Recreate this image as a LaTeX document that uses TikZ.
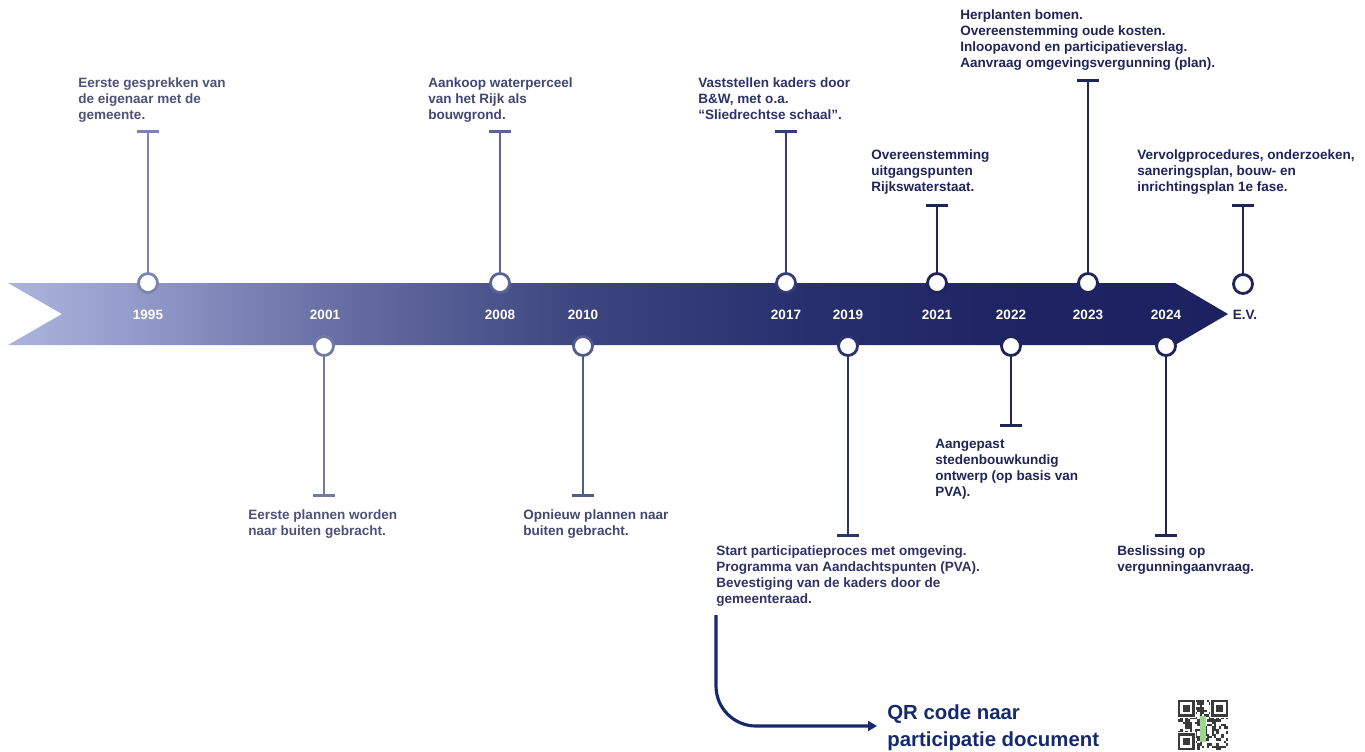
\documentclass[tikz,border=0pt]{standalone}
\usepackage{fontspec}
\setmainfont{Liberation Sans}
\usetikzlibrary{
  arrows.meta,  % Tip "Bar" for the caps, "Triangle" for the QR arrow
}
\definecolor{navy}{HTML}{1F2459}
\definecolor{qrblue}{HTML}{152A6E}
\definecolor{qrdark}{HTML}{3A3A3A}
\definecolor{qrgreen}{HTML}{9BD58E}
% stem / text colours from left (light) to right (dark)
\definecolor{st1}{HTML}{7C84AC}
\definecolor{st2}{HTML}{727AA4}
\definecolor{st3}{HTML}{5C6494}
\definecolor{st4}{HTML}{535B8C}
\definecolor{st5}{HTML}{343B75}
\definecolor{st6}{HTML}{2C336D}
\definecolor{txt1}{HTML}{4D5276}
\definecolor{txt2}{HTML}{424772}
\definecolor{txt3}{HTML}{2E3367}
% Band gradient, light on the left, navy on the right
% (the path is fitted to the part from 25bp to 75bp)
\pgfdeclarehorizontalshading{bandshade}{100bp}{
  rgb(0bp)=(0.67,0.71,0.86);
  rgb(25bp)=(0.67,0.71,0.86);
  rgb(31bp)=(0.56,0.59,0.78);
  rgb(38bp)=(0.41,0.44,0.65);
  rgb(48.5bp)=(0.24,0.27,0.50);
  rgb(57bp)=(0.16,0.19,0.44);
  rgb(66bp)=(0.12,0.14,0.39);
  rgb(75bp)=(0.11,0.13,0.38);
  rgb(100bp)=(0.11,0.13,0.38)
}
\tikzset{
  font=\bfseries\fontsize{7.7}{9.1}\selectfont,
  band/.style={
    draw=none,
    shading=bandshade,
    shading angle=0
  },
  dot/.style={
    circle,
    draw,
    fill=white,
    line width=1.6pt,
    minimum size=0.38cm,
    inner sep=0pt
  },
  stem/.style={
    line width=1.6pt,
    -{Bar[width=12.5pt]}
  },
  year/.style={
    text=white
  },
  note/.style={
    anchor=north west,
    align=left,
    inner sep=0pt
  },
  qr arrow/.style={
    qrblue,
    line width=1.8pt,
    rounded corners=0.8cm,
    -{Triangle[length=5pt,width=5.5pt]}
  },
  qr label/.style={
    anchor=north west,
    align=left,
    inner sep=0pt,
    text=qrblue,
    font=\bfseries\fontsize{11.6}{15.4}\selectfont
  }
}

\begin{document}
\begin{tikzpicture}[x=0.02cm,y=-0.02cm]
\useasboundingbox (0,0) rectangle (1365,751);
% Band with notch and tip
\path[band] (8,283) -- (1175,283) -- (1228,314) -- (1175,345)
  -- (8,345) -- (62,314) -- cycle;
% 1995
\node[dot,draw=st1] (d1995) at (148,283) {};
\coordinate (c1995) at (148,130);
\draw[stem,st1] (d1995) -- (c1995);
\node[year] (y1995) at (148,315) {1995};
\node[note,text=txt1] (t1995) at (78,77) {Eerste gesprekken van\\de eigenaar met de\\gemeente.};
% 2001
\node[dot,draw=st2] (d2001) at (324,346) {};
\coordinate (c2001) at (324,497);
\draw[stem,st2] (d2001) -- (c2001);
\node[year] (y2001) at (325,315) {2001};
\node[note,text=txt1] (t2001) at (248,509) {Eerste plannen worden\\naar buiten gebracht.};
% 2008
\node[dot,draw=st3] (d2008) at (500,283) {};
\coordinate (c2008) at (500,130);
\draw[stem,st3] (d2008) -- (c2008);
\node[year] (y2008) at (500,315) {2008};
\node[note,text=txt2] (t2008) at (428,77) {Aankoop waterperceel\\van het Rijk als\\bouwgrond.};
% 2010
\node[dot,draw=st4] (d2010) at (583,346) {};
\coordinate (c2010) at (583,497);
\draw[stem,st4] (d2010) -- (c2010);
\node[year] (y2010) at (583,315) {2010};
\node[note,text=txt2] (t2010) at (523,509) {Opnieuw plannen naar\\buiten gebracht.};
% 2017
\node[dot,draw=st5] (d2017) at (786,283) {};
\coordinate (c2017) at (786,130);
\draw[stem,st5] (d2017) -- (c2017);
\node[year] (y2017) at (786,315) {2017};
\node[note,text=txt3] (t2017) at (698,77) {Vaststellen kaders door\\B\&W, met o.a.\\“Sliedrechtse schaal”.};
% 2019
\node[dot,draw=st6] (d2019) at (848,346) {};
\coordinate (c2019) at (848,537);
\draw[stem,st6] (d2019) -- (c2019);
\node[year] (y2019) at (848,315) {2019};
\node[note,text=txt3] (t2019) at (716,545) {Start participatieproces met omgeving.\\Programma van Aandachtspunten (PVA).\\Bevestiging van de kaders door de\\gemeenteraad.};
% 2021
\node[dot,draw=navy] (d2021) at (937,283) {};
\coordinate (c2021) at (937,204);
\draw[stem,navy] (d2021) -- (c2021);
\node[year] (y2021) at (937,315) {2021};
\node[note,text=navy] (t2021) at (871,149) {Overeenstemming\\uitgangspunten\\Rijkswaterstaat.};
% 2022
\node[dot,draw=navy] (d2022) at (1011,346) {};
\coordinate (c2022) at (1011,427);
\draw[stem,navy] (d2022) -- (c2022);
\node[year] (y2022) at (1011,315) {2022};
\node[note,text=navy] (t2022) at (935,439) {Aangepast\\stedenbouwkundig\\ontwerp (op basis van\\PVA).};
% 2023
\node[dot,draw=navy] (d2023) at (1088,283) {};
\coordinate (c2023) at (1088,79);
\draw[stem,navy] (d2023) -- (c2023);
\node[year] (y2023) at (1088,315) {2023};
\node[note,text=navy] (t2023) at (960,9) {Herplanten bomen.\\Overeenstemming oude kosten.\\Inloopavond en participatieverslag.\\Aanvraag omgevingsvergunning (plan).};
% 2024
\node[dot,draw=navy] (d2024) at (1166,346) {};
\coordinate (c2024) at (1166,537);
\draw[stem,navy] (d2024) -- (c2024);
\node[year] (y2024) at (1166,315) {2024};
\node[note,text=navy] (t2024) at (1117,545) {Beslissing op\\vergunningaanvraag.};
% E.V.
\node[dot,draw=navy] (dEV) at (1243,284) {};
\coordinate (cEV) at (1243,204);
\draw[stem,navy] (dEV) -- (cEV);
\node[text=navy] (yEV) at (1245,315) {E.V.};
\node[note,text=navy] (tEV) at (1137,149) {Vervolgprocedures, onderzoeken,\\saneringsplan, bouw- en\\inrichtingsplan 1e fase.};
% QR link
\node[qr label] (qrtext) at (887,704) {QR code naar\\participatie document};
\coordinate (qrstart) at (716,615);
\coordinate (qrend) at (877,726);
\draw[qr arrow] (qrstart) |- (qrend);
% QR code
\begin{scope}
\clip (1178,700) rectangle (1229,751);
\pgfmathsetseed{4711}
\foreach \i in {0,...,20}{
  \foreach \j in {0,...,20}{
    \pgfmathsetmacro{\bit}{rnd}
    \ifdim\bit pt<0.5pt \fill[qrdark] (1178+\i*2.4,700+\j*2.4) rectangle ++(2.4,2.4); \fi
  }
}
\fill[qrgreen] (1200,716) rectangle (1206,742);
\foreach \qx/\qy in {1178/700,1211.2/700,1178/733.2}{
  \fill[white] (\qx-1,\qy-1) rectangle ++(18.8,18.8);
  \fill[qrdark] (\qx,\qy) rectangle ++(16.8,16.8);
  \fill[white] (\qx+2.4,\qy+2.4) rectangle ++(12,12);
  \fill[qrdark] (\qx+4.8,\qy+4.8) rectangle ++(7.2,7.2);
}
\end{scope}
\end{tikzpicture}
\end{document}
